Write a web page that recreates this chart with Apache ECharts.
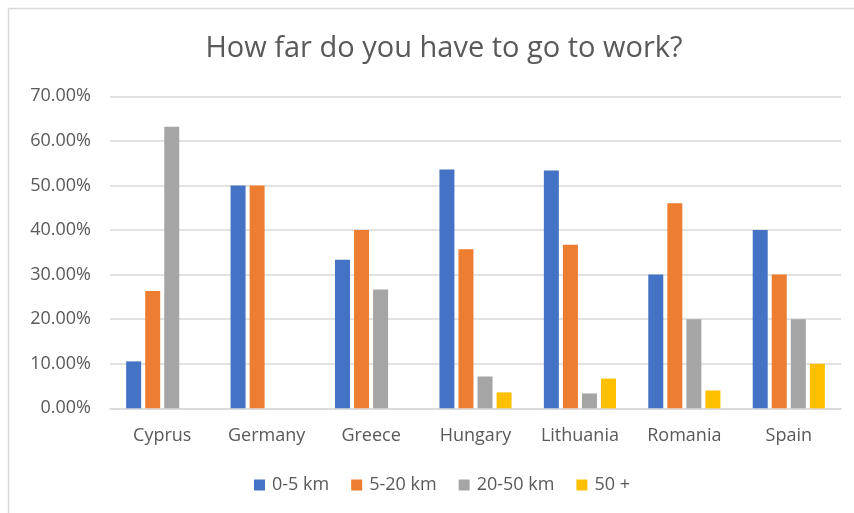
<!DOCTYPE html>
<html>
<head>
<meta charset="utf-8">
<script src="https://cdn.jsdelivr.net/npm/echarts@6/dist/echarts.min.js"></script>
<style>
  html, body { margin: 0; padding: 0; background: #fff; }
  #chart { width: 854px; height: 513px; }
</style>
</head>
<body>
<div id="chart"></div>
<script>
// Survey: distance travelled to work, share of respondents per country
const countries = ['Cyprus', 'Germany', 'Greece', 'Hungary', 'Lithuania', 'Romania', 'Spain'];
const km0to5   = [10.53, 50.00, 33.33, 53.57, 53.33, 30.00, 40.00];
const km5to20  = [26.32, 50.00, 40.00, 35.71, 36.67, 46.00, 30.00];
const km20to50 = [63.16, null,  26.67, 7.14,  3.33,  20.00, 20.00];
const km50plus = [null,  null,  null,  3.57,  6.67,  4.00,  10.00];
const seriesNames = ['0-5 km', '5-20 km', '20-50 km', '50 +'];
const yTicks = { min: 0, max: 70, step: 10 };

const colors = ['#4472C4', '#ED7D31', '#A5A5A5', '#FFC000'];
const FONT = '"Open Sans", sans-serif';
const TEXT = '#595959';

const chart = echarts.init(document.getElementById('chart'), null, { renderer: 'canvas' });

function barSeries(name, data, i) {
  return {
    name: name,
    type: 'bar',
    data: data,
    barWidth: 15,
    barGap: '27%',
    itemStyle: { color: colors[i] },
    emphasis: { disabled: true }
  };
}

chart.setOption({
  animation: false,
  backgroundColor: '#fff',
  color: colors,
  title: {
    text: 'How far do you have to go to work?',
    left: 439,
    textAlign: 'center',
    top: 29,
    textStyle: { fontFamily: FONT, fontSize: 29, fontWeight: 'normal', color: TEXT }
  },
  legend: {
    data: seriesNames,
    left: 249,
    top: 471,
    itemWidth: 11,
    itemHeight: 11,
    itemGap: 22,
    icon: 'rect',
    textStyle: { fontFamily: FONT, fontSize: 18, color: TEXT, padding: [0, 0, 0, 2] }
  },
  grid: { left: 110, right: 13, top: 96.3, bottom: 104.7, containLabel: false },
  xAxis: {
    type: 'category',
    data: countries,
    axisTick: { show: false },
    axisLine: { lineStyle: { color: '#D9D9D9', width: 1.5 } },
    axisLabel: { fontFamily: FONT, fontSize: 18, color: TEXT, margin: 19 }
  },
  yAxis: {
    type: 'value',
    min: yTicks.min,
    max: yTicks.max,
    interval: yTicks.step,
    axisLine: { show: false },
    axisTick: { show: false },
    splitLine: { lineStyle: { color: '#D9D9D9', width: 1.5 } },
    axisLabel: {
      fontFamily: FONT, fontSize: 18, color: TEXT, margin: 19,
      formatter: v => v.toFixed(2) + '%'
    }
  },
  graphic: [{
    type: 'rect',
    shape: { x: 8.5, y: 8.5, width: 900, height: 600 },
    style: { fill: 'none', stroke: '#D9D9D9', lineWidth: 1.5 },
    silent: true
  }],
  series: [
    barSeries(seriesNames[0], km0to5, 0),
    barSeries(seriesNames[1], km5to20, 1),
    barSeries(seriesNames[2], km20to50, 2),
    barSeries(seriesNames[3], km50plus, 3)
  ]
});
</script>
</body>
</html>
